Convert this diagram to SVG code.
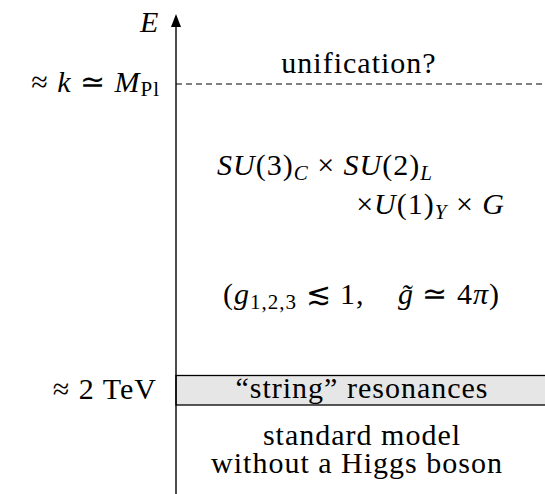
<svg xmlns="http://www.w3.org/2000/svg" width="545" height="494" viewBox="0 0 545 494">
<defs>
<marker id="ah" markerWidth="13" markerHeight="10" refX="11" refY="5" orient="auto" markerUnits="userSpaceOnUse" viewBox="0 0 13 10">
<path d="M0,0 L13,5 L0,10 Z" fill="#000"/>
</marker>
</defs>
<rect width="545" height="494" fill="#fff"/>
<g id="band">
<rect x="176" y="375.5" width="370" height="29.5" fill="#e6e6e6" stroke="#000" stroke-width="1.3"/>
</g>
<g id="connectors" stroke="#000" fill="none">
<line x1="176" y1="494" x2="176" y2="16" stroke-width="1.4" marker-end="url(#ah)"/>
<line x1="176" y1="84" x2="545" y2="84" stroke-dasharray="6,4" stroke-width="1"/>
</g>
<g id="labels">
<text font-family="Liberation Serif" font-size="30" font-style="italic" x="140" y="32">E</text>
<text font-family="Liberation Serif" font-size="30" x="160" y="92" text-anchor="end" letter-spacing="1">≈ <tspan font-style="italic">k</tspan> ≃ <tspan font-style="italic">M</tspan><tspan font-size="21" dy="4">Pl</tspan></text>
<text font-family="Liberation Serif" font-size="30" x="157" y="399" text-anchor="end" letter-spacing="1">≈ 2 TeV</text>
</g>
<g id="unification"><text font-family="Liberation Serif" font-size="30" x="359" y="73" text-anchor="middle" letter-spacing="1">unification?</text></g>
<g id="gauge">
<text font-family="Liberation Serif" font-size="30" x="217" y="175" letter-spacing="1"><tspan font-style="italic">SU</tspan>(3)<tspan font-size="21" font-style="italic" dy="5">C</tspan><tspan dy="-5"> × </tspan><tspan font-style="italic">SU</tspan>(2)<tspan font-size="21" font-style="italic" dy="5">L</tspan></text>
<text font-family="Liberation Serif" font-size="30" x="505" y="214" text-anchor="end" letter-spacing="1">×<tspan font-style="italic">U</tspan>(1)<tspan font-size="21" font-style="italic" dy="5">Y</tspan><tspan dy="-5"> × </tspan><tspan font-style="italic">G</tspan></text>
</g>
<g id="couplings">
<text font-family="Liberation Serif" font-size="30" x="223" y="304" letter-spacing="1">(<tspan font-style="italic">g</tspan><tspan font-size="21" dy="5">1,2,3</tspan><tspan dy="-5"> ≲ 1,</tspan></text>
<text font-family="Liberation Serif" font-size="30" x="500" y="304" text-anchor="end" letter-spacing="1"><tspan font-style="italic">g̃</tspan> ≃ 4<tspan font-style="italic">π</tspan>)</text>
</g>
<g id="resonances"><text font-family="Liberation Serif" font-size="30" x="362" y="398" text-anchor="middle" letter-spacing="1">“string” resonances</text></g>
<g id="sm">
<text font-family="Liberation Serif" font-size="30" x="362" y="445" text-anchor="middle" letter-spacing="1">standard model</text>
<text font-family="Liberation Serif" font-size="30" x="357" y="473" text-anchor="middle" letter-spacing="1">without a Higgs boson</text>
</g>
</svg>
